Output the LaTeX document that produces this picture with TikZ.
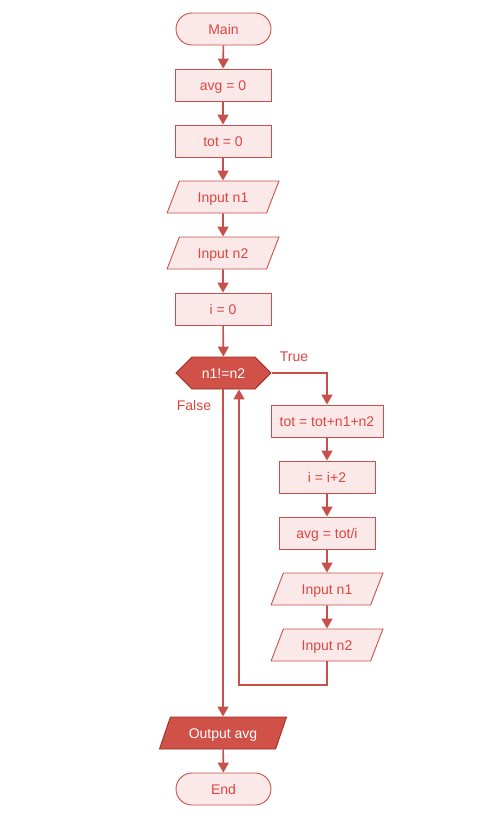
\documentclass[tikz,border=0pt]{standalone}
\usepackage{fontspec}
\setmainfont{Liberation Sans}
\usetikzlibrary{shapes.geometric,shapes.symbols,arrows.meta}

\definecolor{lightred}{HTML}{FBE9E9}
\definecolor{linered}{HTML}{C9504A}
\definecolor{textred}{HTML}{DC4640}
\definecolor{darkred}{HTML}{CF5148}
\definecolor{edgered}{HTML}{9E2C26}

\tikzset{
    box/.style={draw=linered, fill=lightred, text=textred, line width=0.9pt,
        minimum width=96pt, minimum height=32pt, inner sep=0pt,
        text height=12pt, text depth=2pt,
        font=\fontsize{14}{16}\selectfont},
    process/.style={box, rectangle},
    terminal/.style={box, rectangle, rounded corners=16pt, minimum width=95pt},
    io/.style={box, trapezium, trapezium left angle=63, trapezium right angle=117,
        trapezium stretches=true, minimum width=112pt},
    decision/.style={box, signal, signal to=east and west, signal pointer angle=90,
        minimum width=95pt, fill=darkred, draw=edgered, text=white},
    output/.style={io, fill=darkred, draw=edgered, text=white, minimum width=128pt},
    flow/.style={draw=linered, line width=1.6pt,
        -{Triangle[length=10pt,width=11pt]}},
    lbl/.style={text=textred, font=\fontsize{14}{16}\selectfont, inner sep=0pt},
}

\begin{document}
\begin{tikzpicture}[x=1pt, y=-1pt]
    \useasboundingbox (0,0) rectangle (478,827);

    % main column
    \node[terminal] (start) at (223.5,29) {Main};
    \node[process] (avg0) at (223,85) {avg = 0};
    \node[process] (tot0) at (223,141) {tot = 0};
    \node[io] (inA) at (223,197) {Input n1};
    \node[io] (inB) at (223,253) {Input n2};
    \node[process] (i0) at (223,309) {i = 0};
    \node[decision] (cond) at (223.5,373) {n1!=n2};

    % loop body
    \node[process, minimum width=112pt] (totsum) at (327,421) {tot = tot+n1+n2};
    \node[process] (inc) at (327,477) {i = i+2};
    \node[process] (avgcalc) at (327,533) {avg = tot/i};
    \node[io] (inC) at (327,589) {Input n1};
    \node[io] (inD) at (327,645) {Input n2};

    \node[output] (out) at (223,733) {Output avg};
    \node[terminal] (stop) at (223.5,789) {End};

    \node[lbl] (truelbl) at (294,357) {True};
    \node[lbl] (falselbl) at (194,405) {False};
    \coordinate (back) at (239,685);

    \draw[flow] (start) -- (avg0);
    \draw[flow] (avg0) -- (tot0);
    \draw[flow] (tot0) -- (inA);
    \draw[flow] (inA) -- (inB);
    \draw[flow] (inB) -- (i0);
    \draw[flow] (i0) -- (cond);
    \draw[flow] (cond.east) -| (totsum.north);
    \draw[flow] (totsum) -- (inc);
    \draw[flow] (inc) -- (avgcalc);
    \draw[flow] (avgcalc) -- (inC);
    \draw[flow] (inC) -- (inD);
    \draw[flow] (inD.south) |- (back) -- (back |- cond.south);
    \draw[flow] (cond.south -| out.north) -- (out.north);
    \draw[flow] (out) -- (stop);
\end{tikzpicture}
\end{document}
